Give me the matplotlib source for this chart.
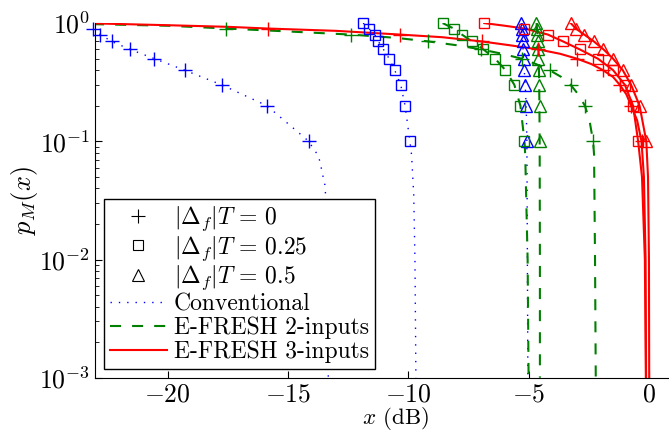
import matplotlib
matplotlib.use('Agg')
import matplotlib.pyplot as plt
from matplotlib.lines import Line2D

plt.rcParams['font.family'] = 'serif'
plt.rcParams['font.serif'] = ['cmr10']
plt.rcParams['mathtext.fontset'] = 'cm'
plt.rcParams['axes.formatter.use_mathtext'] = True

# simulation points: levels of p and x (dB) at each level
p_sim = [1.0, 0.9, 0.8, 0.7, 0.6, 0.5, 0.4, 0.3, 0.2, 0.1]
p_sim0 = [0.9, 0.8, 0.7, 0.6, 0.5, 0.4, 0.3, 0.2, 0.1]

conv0_x = [-23.1, -22.8, -22.33, -21.57, -20.55, -19.3, -17.75, -15.88, -14.14]
conv25_x = [-11.88, -11.64, -11.40, -11.25, -11.04, -10.80, -10.57, -10.32, -10.14, -9.94]
conv50_x = [-5.32, -5.30, -5.28, -5.26, -5.24, -5.22, -5.19, -5.15, -5.11, -5.08]

fr2_0_x = [-17.57, -12.4, -9.18, -7.0, -5.3, -4.14, -3.26, -2.67, -2.33]
fr2_25_x = [-8.58, -8.12, -7.78, -7.36, -6.89, -6.4, -5.97, -5.6, -5.35, -5.18]
fr2_50_x = [-4.69, -4.67, -4.65, -4.63, -4.61, -4.60, -4.58, -4.56, -4.55, -4.53]

fr3_0_x = [-15.85, -10.35, -6.96, -4.62, -3.0, -1.92, -1.22, -0.75, -0.32]
fr3_25_x = [-6.85, -5.18, -4.21, -3.58, -2.89, -2.13, -1.5, -1.01, -0.67, -0.46]
fr3_50_x = [-3.26, -3.05, -2.7, -2.3, -1.9, -1.5, -1.1, -0.75, -0.4, -0.12]

# analytical curves
conv0_lx = [-23.1, -22.8, -22.33, -21.57, -20.55, -19.3, -17.75, -15.88, -14.14,
            -13.97, -13.79, -13.68, -13.61, -13.54, -13.47, -13.42, -13.37, -13.34, -13.33]
conv0_lp = [0.9, 0.8, 0.7, 0.6, 0.5, 0.4, 0.3, 0.2, 0.1,
            0.088, 0.078, 0.068, 0.058, 0.0495, 0.0427, 0.03, 0.01, 0.003, 0.001]
conv25_lx = [-11.88, -11.64, -11.40, -11.25, -11.04, -10.80, -10.57, -10.32, -10.14, -9.94,
             -9.87, -9.78, -9.73, -9.69]
conv25_lp = [1.0, 0.9, 0.8, 0.7, 0.6, 0.5, 0.4, 0.3, 0.2, 0.1, 0.0766, 0.035, 0.01, 0.001]
conv50_lx = [-5.32, -5.30, -5.28, -5.26, -5.24, -5.22, -5.19, -5.15, -5.11, -5.08, -5.06, -5.04]
conv50_lp = [1.0, 0.9, 0.8, 0.7, 0.6, 0.5, 0.4, 0.3, 0.2, 0.1, 0.01, 0.001]

fr2_0_lx = [-23.1, -20, -17.57, -15, -12.4, -10.5, -9.18, -8, -7.0, -6.1, -5.3, -4.7, -4.14,
            -3.65, -3.26, -2.95, -2.67, -2.48, -2.33, -2.29, -2.25, -2.22]
fr2_0_lp = [0.98, 0.95, 0.9, 0.85, 0.8, 0.75, 0.7, 0.65, 0.6, 0.55, 0.5, 0.45, 0.4,
            0.35, 0.3, 0.25, 0.2, 0.15, 0.1, 0.077, 0.01, 0.001]
fr2_25_lx = [-8.58, -8.12, -7.78, -7.36, -6.89, -6.4, -5.97, -5.6, -5.35, -5.18, -5.15, -5.05, -5.01]
fr2_25_lp = [1.0, 0.9, 0.8, 0.7, 0.6, 0.5, 0.4, 0.3, 0.2, 0.1, 0.077, 0.01, 0.001]
fr2_50_lx = [-4.68, -4.66, -4.64, -4.62, -4.60, -4.59, -4.58, -4.57, -4.56, -4.55, -4.54, -4.54]
fr2_50_lp = [1.0, 0.9, 0.8, 0.7, 0.6, 0.5, 0.4, 0.3, 0.2, 0.1, 0.01, 0.001]

fr3_0_lx = [-23.1, -20, -17.5, -15.85, -13, -10.35, -8.6, -6.96, -5.8, -4.62, -3.7, -3.0, -2.4,
            -1.92, -1.5, -1.22, -0.95, -0.75, -0.5, -0.32, -0.22, -0.15, -0.13]
fr3_0_lp = [0.995, 0.96, 0.93, 0.9, 0.86, 0.8, 0.76, 0.7, 0.65, 0.6, 0.55, 0.5, 0.45,
            0.4, 0.35, 0.3, 0.25, 0.2, 0.15, 0.1, 0.05, 0.01, 0.001]
fr3_25_lx = [-6.85, -6.0, -5.18, -4.21, -3.58, -2.89, -2.13, -1.5, -1.01, -0.67, -0.46,
             -0.3, -0.18, -0.14]
fr3_25_lp = [1.0, 0.95, 0.9, 0.8, 0.7, 0.6, 0.5, 0.4, 0.3, 0.2, 0.1, 0.05, 0.01, 0.001]
fr3_50_lx = [-3.26, -3.05, -2.7, -2.3, -1.9, -1.5, -1.1, -0.75, -0.4, -0.12, -0.05, -0.01, 0.0]
fr3_50_lp = [1.0, 0.9, 0.8, 0.7, 0.6, 0.5, 0.4, 0.3, 0.2, 0.1, 0.05, 0.01, 0.001]

blue = (0, 0, 1)
green = (0, 0.5, 0)
red = (1, 0, 0)
dotted = (0, (1, 5))
dashed = (0, (5.3, 5.3))

fig = plt.figure(figsize=(6.69, 4.32), dpi=100)
ax = fig.add_axes([0.1427, 0.1257, 0.8637, 0.8208])

# lines
for lx, lp in [(conv0_lx, conv0_lp), (conv25_lx, conv25_lp), (conv50_lx, conv50_lp)]:
    ax.plot(lx, lp, color=blue, linestyle=dotted, linewidth=1.0)
for lx, lp in [(fr2_0_lx, fr2_0_lp), (fr2_25_lx, fr2_25_lp), (fr2_50_lx, fr2_50_lp)]:
    ax.plot(lx, lp, color=green, linestyle=dashed, linewidth=1.5)
for lx, lp in [(fr3_0_lx, fr3_0_lp), (fr3_25_lx, fr3_25_lp), (fr3_50_lx, fr3_50_lp)]:
    ax.plot(lx, lp, color=red, linestyle='-', linewidth=1.5)

# markers (not clipped, like the original)
mk = dict(linestyle='none', markerfacecolor='none', markeredgewidth=1.0, clip_on=False)
for c, x0, x25, x50 in [(blue, conv0_x, conv25_x, conv50_x),
                        (green, fr2_0_x, fr2_25_x, fr2_50_x),
                        (red, fr3_0_x, fr3_25_x, fr3_50_x)]:
    ax.plot(x0, p_sim0, marker='+', markersize=10, color=c, **mk)
    ax.plot(x25, p_sim, marker='s', markersize=7, color=c, **mk)
    ax.plot(x50, p_sim, marker='^', markersize=8, color=c, **mk)

ax.set_yscale('log')
ax.set_xlim(-23, 1)
ax.set_ylim(1e-3, 1)
ax.set_xticks([-20, -15, -10, -5, 0])
ax.spines['top'].set_visible(False)
ax.spines['right'].set_visible(False)
ax.tick_params(which='both', direction='in', labelsize=18.5, top=False, right=False)
ax.tick_params(which='major', length=5, pad=4)
ax.tick_params(which='minor', length=3)
ax.set_xlabel('$x$ (dB)', fontsize=16.5)
ax.xaxis.set_label_coords(0.52, -0.077)
ax.set_ylabel('$p_M(x)$', fontsize=19, labelpad=-1)

handles = [
    Line2D([], [], color='k', marker='+', markersize=10, linestyle='none', markeredgewidth=0.8),
    Line2D([], [], color='k', marker='s', markersize=7, linestyle='none', markerfacecolor='none', markeredgewidth=0.8),
    Line2D([], [], color='k', marker='^', markersize=8, linestyle='none', markerfacecolor='none', markeredgewidth=0.8),
    Line2D([], [], color=blue, linestyle=dotted, linewidth=1.0),
    Line2D([], [], color=green, linestyle=dashed, linewidth=1.5),
    Line2D([], [], color=red, linestyle='-', linewidth=1.5),
]
labels = [r'$|\Delta_f|T\,=\,0$', r'$|\Delta_f|T\,=\,0.25$', r'$|\Delta_f|T\,=\,0.5$',
          'Conventional', 'E-FRESH 2-inputs', 'E-FRESH 3-inputs']
leg = ax.legend(handles, labels, loc='lower left', bbox_to_anchor=(104 / 669, 63 / 432),
                bbox_transform=fig.transFigure, borderaxespad=0, fontsize=17,
                handlelength=2.4, handletextpad=0.3, labelspacing=0.05, borderpad=0.25,
                fancybox=False, framealpha=1, edgecolor='k')
leg.get_frame().set_linewidth(1.0)

fig.savefig('out.png', dpi=100)
